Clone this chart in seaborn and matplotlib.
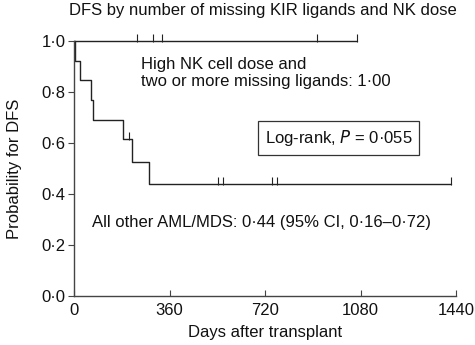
import matplotlib
matplotlib.use("Agg")
import matplotlib.pyplot as plt
import seaborn as sns
import pandas as pd

# Data
high_time = [0, 1067]
high_surv = [1.0, 1.0]
high_censor_time = [237, 298, 332, 916, 1067]
high_censor_surv = [1.0, 1.0, 1.0, 1.0, 1.0]

other_time = [0, 3, 23, 64, 73, 183, 217, 284, 1420]
other_surv = [1.0, 0.923, 0.846, 0.769, 0.692, 0.615, 0.527, 0.439, 0.439]
other_censor_time = [209, 544, 563, 747, 764, 1420]
other_censor_surv = [0.615, 0.439, 0.439, 0.439, 0.439, 0.439]

x_ticks = [0, 360, 720, 1080, 1440]
y_ticks = [0.0, 0.2, 0.4, 0.6, 0.8, 1.0]
y_tick_labels = ["0·0", "0·2", "0·4", "0·6", "0·8", "1·0"]

sns.set_theme(style="white")
plt.rcParams['font.family'] = ['Liberation Sans', 'DejaVu Sans']

fig = plt.figure(figsize=(4.75, 3.45), dpi=100)
ax = fig.add_axes([74/475, 1-296/345, (456-74)/475, (296-41)/345])

lc = "#222222"
fs = 12
df_high = pd.DataFrame({"t": high_time, "s": high_surv})
df_other = pd.DataFrame({"t": other_time, "s": other_surv})
sns.lineplot(data=df_high, x="t", y="s", drawstyle="steps-post", color=lc, lw=1.0, ax=ax, clip_on=False)
sns.lineplot(data=df_other, x="t", y="s", drawstyle="steps-post", color=lc, lw=1.0, ax=ax, clip_on=False)
sns.scatterplot(x=high_censor_time, y=[v + 0.012 for v in high_censor_surv], marker="|", s=30, color=lc,
                linewidth=0.8, ax=ax, clip_on=False)
sns.scatterplot(x=other_censor_time, y=[v + 0.012 for v in other_censor_surv], marker="|", s=30, color=lc,
                linewidth=0.8, ax=ax, clip_on=False)

ax.set_xlim(0, 1440)
ax.set_ylim(0, 1.0)
ax.set_xticks(x_ticks)
ax.set_xticklabels([str(v) for v in x_ticks])
ax.set_yticks(y_ticks)
ax.set_yticklabels(y_tick_labels)
for s in ["top", "right"]:
    ax.spines[s].set_visible(False)
for s in ["left", "bottom"]:
    ax.spines[s].set_color("#444444")
    ax.spines[s].set_linewidth(1.0)
ax.tick_params(axis="x", direction="in", length=4, width=0.8, color="#444444", labelsize=fs, pad=5, bottom=True,
               labelcolor="#111111")
ax.tick_params(axis="y", direction="out", length=4, width=0.8, color="#444444", labelsize=fs, pad=2, left=True,
               labelcolor="#111111")

ax.set_xlabel("Days after transplant", fontsize=fs, labelpad=5, color="#111111")
ax.set_ylabel("Probability for DFS", fontsize=fs, labelpad=14, color="#111111")
fig.text(263/475, 1-11/345, "DFS by number of missing KIR ligands and NK dose", ha="center", va="center",
         fontsize=fs, color="#111111")

ax.text(253, 0.906, "High NK cell dose and", fontsize=fs, va="center", ha="left", color="#111111")
ax.text(253, 0.843, "two or more missing ligands: 1·00", fontsize=fs, va="center", ha="left", color="#111111")
ax.text(720, 0.62, "Log-rank, $\\it{P}$ = 0·055", fontsize=fs, va="center", ha="left", color="#111111",
        bbox=dict(boxstyle="square,pad=0.4", fc="white", ec="#333333", lw=0.9))
ax.text(68, 0.29, "All other AML/MDS: 0·44 (95% CI, 0·16–0·72)", fontsize=fs, va="center", ha="left",
        color="#111111")

fig.savefig("out.png", dpi=100)
